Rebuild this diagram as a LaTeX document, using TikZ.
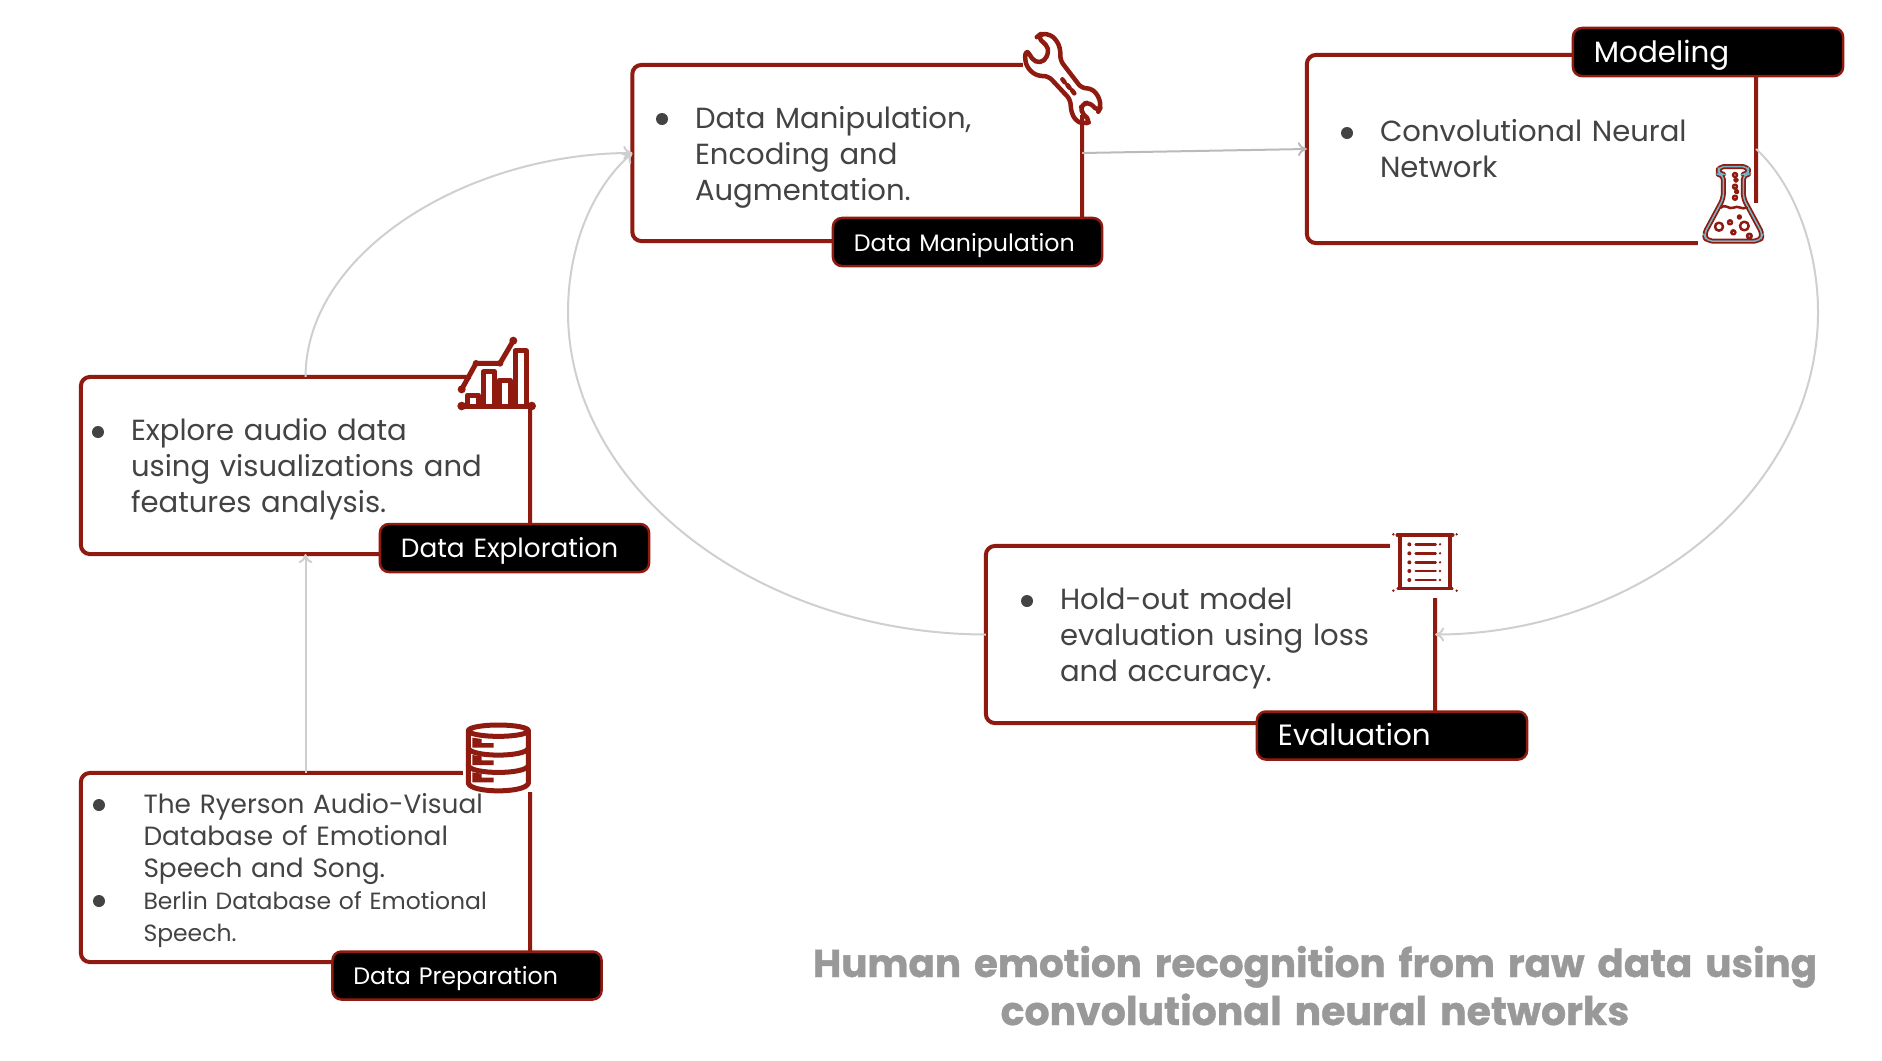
\documentclass[tikz,border=0pt]{standalone}
\usepackage{fontspec}
\setmainfont{Poppins}[BoldFeatures={FakeBold=1}]
\usetikzlibrary{arrows.meta}
\definecolor{darkred}{HTML}{8F1A10}
\definecolor{bodygray}{HTML}{434343}
\definecolor{titlegray}{HTML}{999999}
\definecolor{linegray}{HTML}{CFCFCF}
\definecolor{flaskteal}{HTML}{76B5C5}
\tikzset{
	stepbox/.style={draw=darkred,line width=0.04cm,rounded corners=0.09cm,inner sep=0pt,outer sep=0pt,fill=white},
	steptag/.style={draw=darkred,fill=black,text=white,line width=0.025cm,rounded corners=0.09cm,inner xsep=0.21cm,inner ysep=0pt,outer sep=0pt,minimum height=0.48cm,align=left,text height=0.28cm,text depth=0.09cm},
	bodytext/.style={text=bodygray,inner sep=0pt,outer sep=0pt,align=left,anchor=base west,font={\fontsize{8.27pt}{10.24pt}\selectfont}},
	smalltext/.style={bodytext,font={\fontsize{7.5pt}{9.1pt}\selectfont}},
	tinytext/.style={bodytext,font={\fontsize{6.68pt}{9.1pt}\selectfont}},
	bulletdot/.style={circle,fill=bodygray,inner sep=0pt,minimum size=0.12cm},
	link/.style={-{To[length=0.09cm,width=0.14cm]},draw=linegray,line width=0.02cm},
	iconline/.style={draw=darkred,line width=0.045cm,line join=round,line cap=round},
	iconthin/.style={draw=darkred,line width=0.025cm,line join=round,line cap=round}
}
\begin{document}
\begin{tikzpicture}[x=0.01cm,y=-0.01cm]
	\useasboundingbox (0,0) rectangle (1882,1060);

	% boxes
	\node[stepbox,minimum width=4.49cm,minimum height=1.89cm] (prep) at (305.5,867.5) {};
	\node[stepbox,minimum width=4.49cm,minimum height=1.77cm] (expl) at (305.5,465.5) {};
	\node[stepbox,minimum width=4.495cm,minimum height=1.76cm] (manip) at (857.2,153) {};
	\node[stepbox,minimum width=4.49cm,minimum height=1.88cm] (model) at (1531.5,149) {};
	\node[stepbox,minimum width=4.49cm,minimum height=1.77cm] (eval) at (1210.5,634.5) {};

	% connectors
	\coordinate (rightbend) at (1818,312);
	\coordinate (leftbend) at (568,312);
	\draw[link] (prep.north) -- (expl.south);
	\draw[link] (expl.north) .. controls (306,250) and (470,153) .. (manip.west);
	\draw[link,draw=linegray!90!black] (manip.east) -- (model.west);
	\draw[link] (model.east) .. controls (1795,185) and (1818,250) .. (rightbend) .. controls (1818,490) and (1640,634) .. (eval.east);
	\draw[link] (eval.west) .. controls (760,634) and (568,490) .. (leftbend) .. controls (568,250) and (590,190) .. (manip.west);

	% tags
	\node[steptag,text width=2.27cm,text height=0.26cm,font={\fontsize{6.75pt}{9pt}\selectfont}] (preptag) at (467,975.5) {Data Preparation};
	\node[steptag,text width=2.27cm,font={\fontsize{7.49pt}{10pt}\selectfont}] (expltag) at (514.5,548) {Data Exploration};
	\node[steptag,text width=2.27cm,font={\fontsize{6.75pt}{9pt}\selectfont}] (maniptag) at (967.5,242) {Data Manipulation};
	\node[steptag,text width=2.28cm,text height=0.30cm,font={\fontsize{8.35pt}{10pt}\selectfont}] (modeltag) at (1708,52) {Modeling};
	\node[steptag,text width=2.28cm,font={\fontsize{8.35pt}{10pt}\selectfont}] (evaltag) at (1392,735.5) {Evaluation};

	% texts
	\node[bulletdot] (prepdota) at (99,805) {};
	\node[bulletdot] (prepdotb) at (99,901) {};
	\node[smalltext,text width=3.8cm] (preptexta) at (143.5,813) {The Ryerson Audio-Visual\\Database of Emotional\\Speech and Song.};
	\node[tinytext,text width=3.8cm] (preptextb) at (143.5,909) {Berlin Database of Emotional\\Speech.};
	\node[bulletdot] (expldot) at (98,432) {};
	\node[bodytext,text width=3.8cm] (expltext) at (131,440) {Explore audio data\\using visualizations and\\features analysis.};
	\node[bulletdot] (manipdot) at (662,119) {};
	\node[bodytext,text width=3.3cm] (maniptext) at (695,128) {Data Manipulation,\\Encoding and\\Augmentation.};
	\node[bulletdot] (modeldot) at (1347,133) {};
	\node[bodytext,text width=3.4cm] (modeltext) at (1380,141) {Convolutional Neural\\Network};
	\node[bulletdot] (evaldot) at (1027,601) {};
	\node[bodytext,text width=3.4cm] (evaltext) at (1060,609) {Hold-out model\\evaluation using loss\\and accuracy.};

	% title
	\node[text=titlegray,align=center,inner sep=0pt,anchor=base,text width=11cm,font={\fontsize{11.04pt}{13.65pt}\selectfont\bfseries}] (title) at (1315,977) {Human emotion recognition from raw data using\\{\fontsize{11.2pt}{13.65pt}\selectfont convolutional neural networks}};

	% wrench
	\begin{scope}[shift={(1010,20)},scale=1/3]
		\fill[white] (38,20) rectangle (280,285);
		\draw[iconline,rounded corners=0.05cm] (82,50) -- (92,42) -- (118,42) -- (140,60) -- (152,90) -- (150,120) -- (215,205) -- (245,205) -- (268,232) -- (272,262) -- (265,275) -- (240,248) -- (218,250) -- (210,272) -- (242,305) -- (222,312) -- (196,302) -- (182,270) -- (182,240) -- (115,168) -- (82,168) -- (55,148) -- (44,120) -- (48,88) -- (75,128) -- (105,124) -- (118,85) -- cycle;
		\draw[iconline] (157,178) -- (164,187);
		\draw[iconline] (172,195) -- (179,204);
		\draw[iconline] (186,211) -- (193,220);
	\end{scope}

	% flask
	\begin{scope}[shift={(1690,155)},scale=1/3]
		\fill[white] (25,145) rectangle (240,280);
		\draw[iconline,line width=0.05cm,rounded corners=0.05cm] (100,58) -- (85,58) -- (85,35) -- (175,35) -- (175,58) -- (160,58) -- (160,130) -- (218,238) -- (210,258) -- (50,258) -- (42,238) -- (100,130) -- cycle;
		\draw[flaskteal,line width=0.015cm,rounded corners=0.05cm] (100,58) -- (85,58) -- (85,35) -- (175,35) -- (175,58) -- (160,58) -- (160,130) -- (218,238) -- (210,258) -- (50,258) -- (42,238) -- (100,130) -- cycle;
		\draw[iconthin] (92,158) .. controls (110,145) and (115,165) .. (130,158) .. controls (145,150) and (155,165) .. (170,158);
		\draw[iconthin] (135,60) circle (6);
		\draw[iconthin] (138,75) circle (5);
		\draw[iconthin] (135,95) circle (6);
		\draw[iconthin] (140,110) circle (5);
		\draw[iconthin] (135,128) circle (6);
		\draw[iconthin] (87,215) circle (12);
		\draw[iconthin] (120,202) circle (6);
		\draw[iconthin] (148,186) circle (5);
		\draw[iconthin] (163,213) circle (13);
		\draw[iconthin] (130,232) circle (6);
		\draw[iconthin,fill=flaskteal] (178,243) circle (7);
	\end{scope}

	% chart
	\begin{scope}[shift={(450,330)},scale=1/3]
		\fill[white] (62,100) rectangle (250,235);
		\draw[iconline,line width=0.05cm] (35,228) -- (245,228);
		\fill[darkred] (35,228) circle (13);
		\fill[darkred] (245,228) circle (13);
		\draw[iconline,line width=0.05cm] (35,178) -- (78,100) -- (150,100) -- (190,32);
		\fill[darkred] (35,178) circle (12);
		\fill[darkred] (78,100) circle (10);
		\fill[darkred] (150,100) circle (10);
		\fill[darkred] (190,32) circle (12);
		\draw[iconline,line width=0.05cm] (52,228) -- (52,195) -- (85,195) -- (85,228);
		\draw[iconline,line width=0.05cm] (100,228) -- (100,125) -- (133,125) -- (133,228);
		\draw[iconline,line width=0.05cm] (147,228) -- (147,150) -- (180,150) -- (180,228);
		\draw[iconline,line width=0.05cm] (195,228) -- (195,62) -- (228,62) -- (228,228);
	\end{scope}

	% database
	\begin{scope}[shift={(455,715)},scale=1/3]
		\fill[white] (25,10) rectangle (235,232);
		\draw[iconline,line width=0.05cm] (130,47) ellipse (90 and 17);
		\draw[iconline,line width=0.05cm] (40,47) -- (40,205) .. controls (50,235) and (210,235) .. (220,205) -- (220,47);
		\draw[iconline,line width=0.05cm] (40,100) .. controls (50,127) and (210,127) .. (220,100);
		\draw[iconline,line width=0.05cm] (40,152) .. controls (50,179) and (210,179) .. (220,152);
		\fill[darkred] (52,68) -- (80,72) -- (80,84) -- (116,84) -- (116,98) -- (80,98) -- (52,98) -- cycle;
		\fill[darkred] (52,120) -- (80,124) -- (80,136) -- (116,136) -- (116,150) -- (80,150) -- (52,150) -- cycle;
		\fill[darkred] (52,172) -- (80,176) -- (80,188) -- (116,188) -- (116,202) -- (80,202) -- (52,202) -- cycle;
	\end{scope}

	% scroll
	\begin{scope}[shift={(1385,525)},scale=1/3]
		\fill[white] (15,15) rectangle (225,220);
		\draw[iconthin,line width=0.035cm] (45,30) rectangle (195,190);
		\draw[iconline] (38,30) -- (202,30);
		\draw[iconthin] (38,190) -- (202,190);
		\fill[darkred] (25,28) circle (4);
		\fill[darkred] (215,28) circle (4);
		\fill[darkred] (25,197) circle (4);
		\fill[darkred] (215,197) circle (4);
		\fill[darkred] (73,58) circle (6);
		\draw[iconthin] (92,58) -- (152,58);
		\fill[darkred] (165,58) circle (4);
		\fill[darkred] (73,85) circle (6);
		\draw[iconthin] (92,85) -- (152,85);
		\fill[darkred] (165,85) circle (4);
		\fill[darkred] (73,112) circle (6);
		\draw[iconthin] (92,112) -- (152,112);
		\fill[darkred] (165,112) circle (4);
		\fill[darkred] (73,138) circle (6);
		\draw[iconthin] (92,138) -- (152,138);
		\fill[darkred] (165,138) circle (4);
		\fill[darkred] (73,165) circle (6);
		\draw[iconthin] (92,165) -- (152,165);
		\fill[darkred] (165,165) circle (4);
	\end{scope}
\end{tikzpicture}
\end{document}
